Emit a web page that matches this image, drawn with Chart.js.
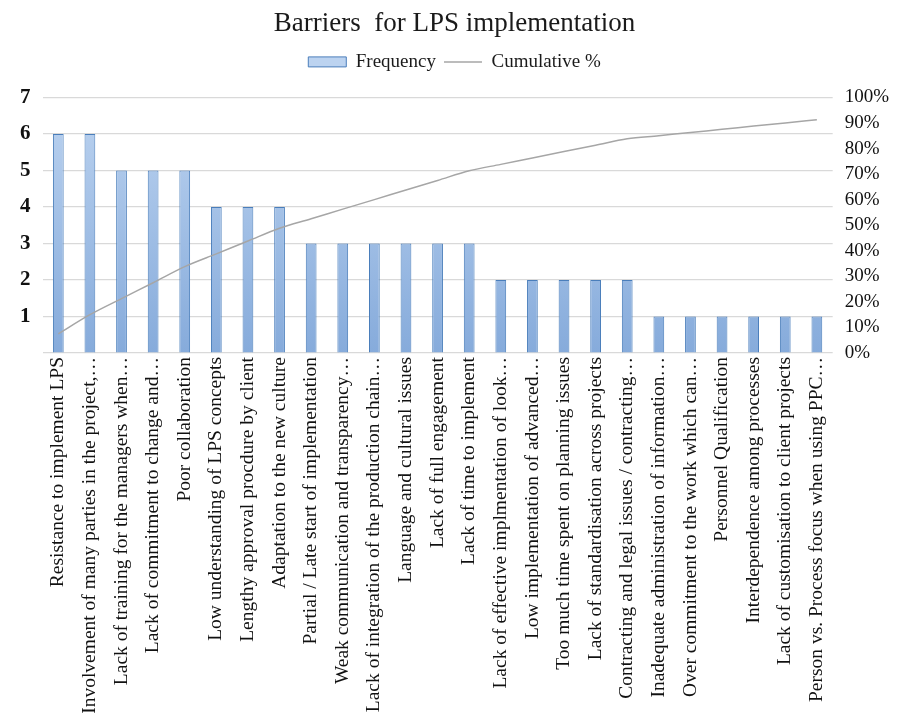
<!DOCTYPE html>
<html>
<head>
<meta charset="utf-8">
<script src="https://cdn.jsdelivr.net/npm/chart.js@4/dist/chart.umd.min.js"></script>
<style>
  html, body { margin: 0; padding: 0; background: #fff; }
  #wrap { width: 901px; height: 717px; }
</style>
</head>
<body>
<div id="wrap"><canvas id="paretoChart"></canvas></div>
<script>
const barriers = [
  "Resistance to implement LPS",
  "Involvement of many parties in the project,…",
  "Lack of training for the managers when…",
  "Lack of commitment to change and…",
  "Poor collaboration",
  "Low understanding of LPS concepts",
  "Lengthy approval procdure by client",
  "Adaptation to the new culture",
  "Partial / Late start of implementation",
  "Weak communication and transparency…",
  "Lack of integration of the production chain…",
  "Language and cultural issues",
  "Lack of full engagement",
  "Lack of time to implement",
  "Lack of effective implmentation of look…",
  "Low implementation of advanced…",
  "Too much time spent on planning issues",
  "Lack of standardisation across projects",
  "Contracting and legal issues / contracting…",
  "Inadequate administration of information…",
  "Over commitment to the work which can…",
  "Personnel Qualification",
  "Interdependence among processes",
  "Lack of customisation to client projects",
  "Person vs. Process focus when using PPC…"
];

const frequency = [6, 6, 5, 5, 5, 4, 4, 4, 3, 3, 3, 3, 3, 3, 2, 2, 2, 2, 2, 1, 1, 1, 1, 1, 1];

// cumulative share (percent)
const cumulativePct = [7.5, 15, 21.3, 27.5, 33.8, 38.8, 43.8, 48.8, 52.5, 56.3, 60, 63.8, 67.5, 71.3,
  73.8, 76.3, 78.8, 81.3, 83.8, 85, 86.3, 87.5, 88.8, 90, 91.3];

const leftTicks = [0, 1, 2, 3, 4, 5, 6, 7];
const rightTicks = [0, 10, 20, 30, 40, 50, 60, 70, 80, 90, 100];

const serif = "'Liberation Serif', 'Times New Roman', serif";

function barFill(context) {
  const area = context.chart.chartArea;
  if (!area) return "#a7c2e6";
  const g = context.chart.ctx.createLinearGradient(0, area.top, 0, area.bottom);
  g.addColorStop(0, "#bcd3f0");
  g.addColorStop(1, "#86abdb");
  return g;
}

// a bit more room under the legend, like the original
const legendGap = {
  id: "legendGap",
  beforeInit(chart) {
    const fit = chart.legend.fit;
    chart.legend.fit = function () {
      fit.bind(chart.legend)();
      this.height += 16;
    };
  }
};

const ctx = document.getElementById("paretoChart").getContext("2d");

new Chart(ctx, {
  data: {
    labels: barriers,
    datasets: [
      {
        type: "line",
        label: "Cumulative %",
        data: cumulativePct,
        yAxisID: "yPct",
        borderColor: "#a6a6a6",
        backgroundColor: "#a6a6a6",
        borderWidth: 1.5,
        pointRadius: 0,
        cubicInterpolationMode: "monotone",
        pointStyle: "line",
        order: 0
      },
      {
        type: "bar",
        label: "Frequency",
        data: frequency,
        yAxisID: "y",
        backgroundColor: barFill,
        borderColor: "#4a7ebb",
        borderWidth: 1,
        barPercentage: 0.34,
        categoryPercentage: 1,
        pointStyle: "rect",
        order: 1
      }
    ]
  },
  plugins: [legendGap],
  options: {
    responsive: true,
    maintainAspectRatio: false,
    animation: false,
    layout: { padding: { left: 8, right: 0, top: 4, bottom: 3 } },
    plugins: {
      title: {
        display: true,
        text: "Barriers  for LPS implementation",
        color: "#1a1a1a",
        font: { family: serif, size: 27, weight: "normal" },
        padding: { top: 4, bottom: 4 }
      },
      legend: {
        display: true,
        reverse: true,
        labels: {
          color: "#1a1a1a",
          font: { family: serif, size: 19 },
          usePointStyle: true,
          pointStyleWidth: 38,
          boxHeight: 10,
          padding: 8
        }
      },
      tooltip: { enabled: false }
    },
    scales: {
      x: {
        offset: true,
        grid: { display: false, drawTicks: false },
        border: { display: false },
        // the long rotated labels need the full height below the plot
        afterFit: scale => { scale.height = 361; },
        ticks: {
          color: "#111",
          font: { family: serif, size: 19.5 },
          minRotation: 90,
          maxRotation: 90,
          autoSkip: false,
          padding: 4
        }
      },
      y: {
        position: "left",
        min: leftTicks[0],
        max: leftTicks[leftTicks.length - 1],
        afterBuildTicks: axis => { axis.ticks = leftTicks.map(v => ({ value: v })); },
        grid: { color: "#d9d9d9", lineWidth: 1.2, drawTicks: false },
        border: { display: false },
        ticks: {
          color: "#111",
          font: { family: serif, size: 21, weight: "bold" },
          padding: 12,
          autoSkip: false,
          callback: v => (v === 0 ? "" : v)
        }
      },
      yPct: {
        position: "right",
        min: rightTicks[0],
        max: rightTicks[rightTicks.length - 1],
        afterBuildTicks: axis => { axis.ticks = rightTicks.map(v => ({ value: v })); },
        grid: { drawOnChartArea: false, drawTicks: false },
        border: { display: false },
        ticks: {
          color: "#111",
          font: { family: serif, size: 19 },
          padding: 12,
          autoSkip: false,
          callback: v => v + "%"
        }
      }
    }
  }
});
</script>
</body>
</html>
